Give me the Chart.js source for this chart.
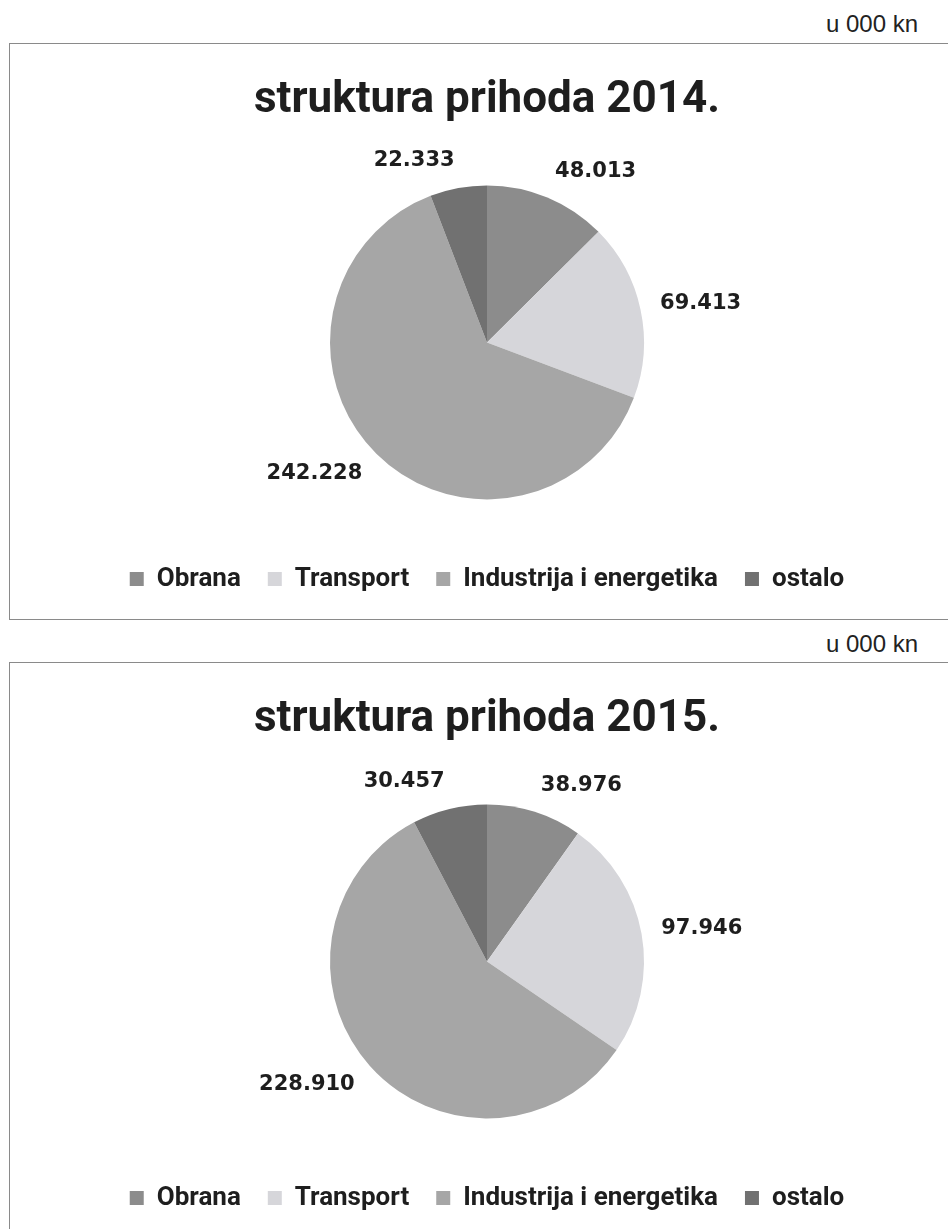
<!DOCTYPE html>
<html lang="hr">
<head>
<meta charset="UTF-8">
<title>struktura prihoda</title>
<script src="https://cdn.jsdelivr.net/npm/chart.js@4.4.1/dist/chart.umd.min.js"></script>
<style>
  html, body { margin:0; padding:0; background:#fff; overflow:hidden; }
  body { width:948px; height:1229px; position:relative; }
  .unit { position:absolute; left:826px; font:24px "Liberation Sans", Arial, sans-serif; color:#222; }
  .box { position:absolute; left:9px; width:954px; height:575px; border:1.5px solid #8a8a8a; }
  .box canvas { display:block; }
</style>
</head>
<body>
<div class="unit" style="top:10px">u 000 kn</div>
<div class="box" style="top:43px"><canvas id="chart2014"></canvas></div>
<div class="unit" style="top:630px">u 000 kn</div>
<div class="box" style="top:662px"><canvas id="chart2015"></canvas></div>
<script>
// podaci (u 000 kn)
const categories = ['Obrana', 'Transport', 'Industrija i energetika', 'ostalo'];
const values2014 = [48013, 69413, 242228, 22333];
const values2015 = [38976, 97946, 228910, 30457];
const sliceColors = ['#8c8c8c', '#d6d6da', '#a6a6a6', '#717171'];

// 48013 -> "48.013"
function fmt(n) {
    return String(n).replace(/\B(?=(\d{3})+(?!\d))/g, '.');
}

// vrijednosti pored isjecaka
const sliceLabels = {
    id: 'sliceLabels',
    afterDatasetsDraw(chart) {
        const ctx = chart.ctx;
        const meta = chart.getDatasetMeta(0);
        const vals = chart.data.datasets[0].data;
        ctx.save();
        ctx.font = 'bold 21px "DejaVu Sans"';
        ctx.fillStyle = '#1e1e1e';
        ctx.textBaseline = 'middle';
        meta.data.forEach((arc, i) => {
            const p = arc.getProps(['x', 'y', 'startAngle', 'endAngle', 'outerRadius'], true);
            const mid = (p.startAngle + p.endAngle) / 2;
            const d = p.outerRadius + 20;
            const ax = p.x + Math.cos(mid) * d;
            const ay = p.y + Math.sin(mid) * d;
            ctx.textAlign = Math.cos(mid) >= 0 ? 'left' : 'right';
            ctx.fillText(fmt(vals[i]), ax, ay + Math.sin(mid) * 8);
        });
        ctx.restore();
    }
};

function makePie(id, title, values) {
    const ctx = document.getElementById(id).getContext('2d');
    return new Chart(ctx, {
        type: 'pie',
        data: {
            labels: categories,
            datasets: [{
                data: values,
                backgroundColor: sliceColors,
                borderWidth: 0,
                radius: 157
            }]
        },
        options: {
            responsive: true,
            maintainAspectRatio: false,
            animation: false,
            layout: { padding: { bottom: 17 } },
            plugins: {
                title: {
                    display: true,
                    text: title,
                    color: '#1e1e1e',
                    font: { family: 'Roboto', size: 44, weight: 'bold' },
                    padding: { top: 31, bottom: 18 }
                },
                legend: {
                    position: 'bottom',
                    labels: {
                        color: '#1e1e1e',
                        font: { family: 'Roboto', size: 26, weight: 'bold' },
                        boxWidth: 14,
                        boxHeight: 14,
                        padding: 27
                    }
                },
                tooltip: { enabled: false }
            }
        },
        plugins: [sliceLabels]
    });
}

makePie('chart2014', 'struktura prihoda 2014.', values2014);
makePie('chart2015', 'struktura prihoda 2015.', values2015);
</script>
</body>
</html>
